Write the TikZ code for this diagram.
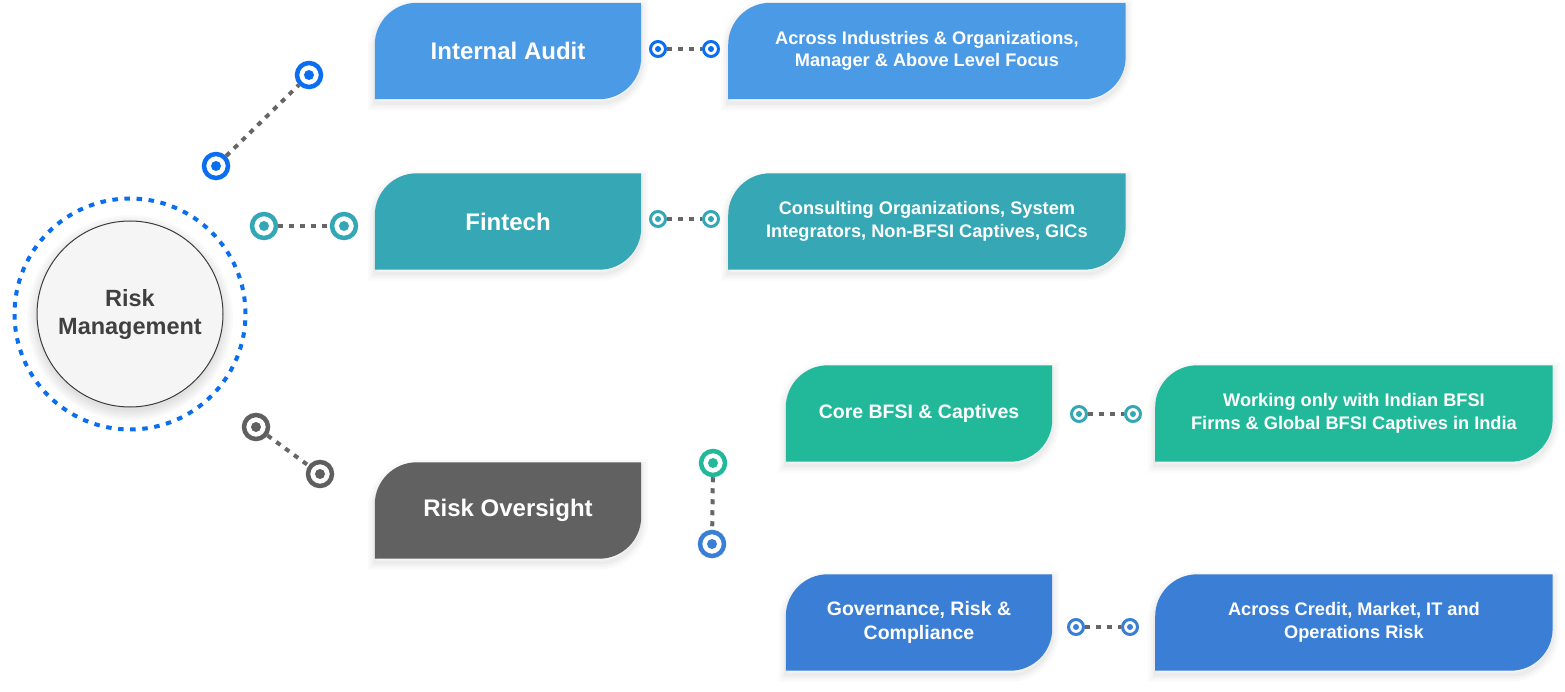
\documentclass[tikz,border=0pt]{standalone}
\usepackage{fontspec}
\setmainfont{Liberation Sans}
\usetikzlibrary{positioning,backgrounds}
\definecolor{auditblue}{RGB}{74,154,230}
\definecolor{fintechteal}{RGB}{53,167,181}
\definecolor{oversightgray}{RGB}{97,97,97}
\definecolor{coregreen}{RGB}{33,185,154}
\definecolor{grcblue}{RGB}{58,127,213}
\definecolor{dotblue}{RGB}{10,110,240}
\definecolor{dotteal}{RGB}{51,167,181}
\definecolor{dotgray}{RGB}{95,95,95}
\definecolor{linegray}{RGB}{102,102,102}
\definecolor{circlefill}{RGB}{245,245,245}
\definecolor{circleline}{RGB}{60,60,60}
\definecolor{textdark}{RGB}{64,64,64}

\tikzset{
  leafbox/.style={minimum width=266pt, minimum height=96pt, inner sep=0pt, align=center, text=white, font=\fontsize{24}{28}\selectfont\bfseries},
  subbox/.style={leafbox, font=\fontsize{19.5}{24}\selectfont\bfseries},
  infobox/.style={leafbox, minimum width=397pt, font=\fontsize{18.2}{22.5}\selectfont\bfseries},
  shadowring/.style 2 args={preaction={fill=none, draw=black, draw opacity=#1, line width=#2, transform canvas={yshift=-4pt}}},
  leafshadow/.style={shadowring={0.02}{14pt}, shadowring={0.025}{9pt}, shadowring={0.03}{4pt}},
  bigdot/.style={circle, draw=#1, fill=white, line width=4.5pt, minimum size=24pt, inner sep=0pt,
    path picture={\fill[#1] (path picture bounding box.center) circle[radius=5pt];}},
  smalldot/.style={circle, draw=#1, fill=white, line width=3pt, minimum size=15pt, inner sep=0pt,
    path picture={\fill[#1] (path picture bounding box.center) circle[radius=3pt];}},
  link/.style={draw=linegray, line width=4pt, dash pattern=on 5pt off 6pt}
}

\begin{document}
\begin{tikzpicture}[x=1pt, y=1pt]
  \useasboundingbox (0,0) rectangle (1565,-692);
  \begin{scope}[on background layer]
    \fill[white] (0,0) rectangle (1565,-692);
  \end{scope}

  % Risk Management
  \draw[dotblue, line width=4pt, dash pattern=on 5.5pt off 6.6pt] (130,-314) circle[radius=115.5pt];
  \foreach \r in {93,95,...,103}
    \fill[black, opacity=0.018] (130,-318) circle[radius=\r pt];
  \node[circle, minimum size=186pt, fill=circlefill, draw=circleline, line width=1pt,
        align=center, text=textdark, font=\fontsize{23.5}{28}\selectfont\bfseries] (risk) at (130,-314) {Risk\\Management};

  % Main branches
  \node[leafbox] (audit) at (508,-51) {Internal Audit};
  \node[leafbox] (fintech) at (508,-221.5) {Fintech};
  \node[leafbox] (oversight) at (508,-510.5) {Risk Oversight};

  % Details
  \node[infobox, right=87pt of audit] (auditinfo) {Across Industries \& Organizations,\\Manager \& Above Level Focus};
  \node[infobox, right=87pt of fintech] (fintechinfo) {Consulting Organizations, System\\Integrators, Non-BFSI Captives, GICs};

  % Risk Oversight split
  \node[subbox] (core) at (919,-413.5) {Core BFSI \& Captives};
  \node[subbox] (grc) at (919,-622.5) {Governance, Risk \&\\Compliance};
  \node[infobox, right=103pt of core] (coreinfo) {Working only with Indian BFSI\\Firms \& Global BFSI Captives in India};
  \node[infobox, right=103pt of grc] (grcinfo) {Across Credit, Market, IT and\\Operations Risk};

  % Box shapes
  \begin{scope}[on background layer]
    \foreach \n/\c in {audit/auditblue, auditinfo/auditblue, fintech/fintechteal, fintechinfo/fintechteal,
                       oversight/oversightgray, core/coregreen, coreinfo/coregreen, grc/grcblue, grcinfo/grcblue}
      \fill[\c, leafshadow] (\n.south west) -- ([yshift=-42pt]\n.north west) arc[start angle=180, end angle=90, radius=42pt]
        -- (\n.north east) -- ([yshift=42pt]\n.south east) arc[start angle=0, end angle=-90, radius=42pt] -- cycle;
  \end{scope}

  % Dots
  \node[bigdot=dotblue] (d1a) at (216,-166) {};
  \node[bigdot=dotblue] (d1b) at (309,-75) {};
  \node[bigdot=dotteal] (d2a) at (264,-226) {};
  \node[bigdot=dotteal] (d2b) at (344,-226) {};
  \node[bigdot=dotgray] (d3a) at (256,-427) {};
  \node[bigdot=dotgray] (d3b) at (320,-474) {};
  \node[bigdot=coregreen] (d4a) at (713,-463) {};
  \node[bigdot=grcblue] (d4b) at (712,-544) {};
  \node[smalldot=dotblue] (s1a) at (658,-49) {};
  \node[smalldot=dotblue] (s1b) at (711,-49) {};
  \node[smalldot=dotteal] (s2a) at (658,-219) {};
  \node[smalldot=dotteal] (s2b) at (711,-219) {};
  \node[smalldot=dotteal] (s3a) at (1079,-414) {};
  \node[smalldot=dotteal] (s3b) at (1133,-414) {};
  \node[smalldot=grcblue] (s4a) at (1076,-627) {};
  \node[smalldot=grcblue] (s4b) at (1130,-627) {};

  % Links
  \foreach \a/\b in {d1a/d1b, d2a/d2b, d3a/d3b, d4a/d4b, s1a/s1b, s2a/s2b, s3a/s3b, s4a/s4b}
    \draw[link] (\a) -- (\b);
\end{tikzpicture}
\end{document}
